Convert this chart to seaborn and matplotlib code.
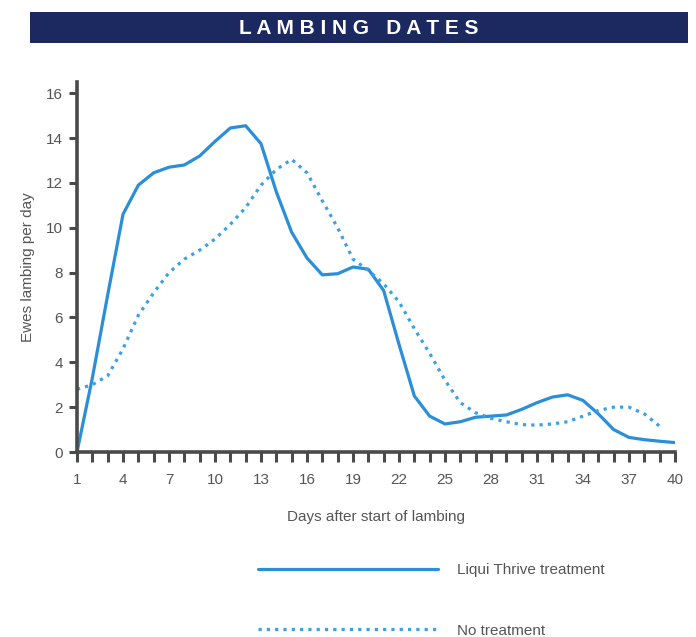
import matplotlib
matplotlib.use("Agg")
import matplotlib.pyplot as plt
import seaborn as sns
import pandas as pd
from matplotlib.patches import Rectangle
from matplotlib.ticker import MultipleLocator, FixedLocator
from matplotlib import font_manager

days = list(range(1, 41))
liqui_thrive = [0.0, 3.3, 7.0, 10.6, 11.9, 12.45, 12.7, 12.8, 13.2, 13.85,
                14.45, 14.55, 13.75, 11.6, 9.8, 8.65, 7.9, 7.95, 8.25, 8.15,
                7.2, 4.8, 2.5, 1.6, 1.25, 1.35, 1.55, 1.6, 1.65, 1.9,
                2.2, 2.45, 2.55, 2.3, 1.7, 1.0, 0.65, 0.55, 0.48, 0.42]
no_treatment_days = list(range(1, 40))
no_treatment = [2.8, 3.0, 3.4, 4.6, 6.1, 7.1, 8.0, 8.6, 9.0, 9.5,
                10.15, 10.9, 11.9, 12.6, 13.05, 12.45, 11.2, 10.0, 8.6, 8.1,
                7.5, 6.7, 5.5, 4.4, 3.2, 2.2, 1.75, 1.5, 1.35, 1.22,
                1.2, 1.25, 1.35, 1.6, 1.85, 2.0, 2.0, 1.7, 1.15]
series_names = ["Liqui Thrive treatment", "No treatment"]
x_tick_labels = list(range(1, 41, 3))
y_ticks = list(range(0, 17, 2))

df = pd.concat([
    pd.DataFrame({"day": days, "value": liqui_thrive, "series": series_names[0]}),
    pd.DataFrame({"day": no_treatment_days, "value": no_treatment, "series": series_names[1]}),
])

sns.set_style("white")
names = {f.name for f in font_manager.fontManager.ttflist}
main_font = "Liberation Sans Narrow" if "Liberation Sans Narrow" in names else "Liberation Sans"
plt.rcParams["font.family"] = [main_font, "DejaVu Sans"]

fig = plt.figure(figsize=(6.96, 6.37), dpi=100)
ax = fig.add_axes([77/696, (637-452)/637, (675-77)/696, (452-82)/637])

blue = "#2a8fd8"
sns.lineplot(data=df, x="day", y="value", hue="series", style="series",
             palette={series_names[0]: blue, series_names[1]: "#3aa0e8"},
             dashes={series_names[0]: "", series_names[1]: (1, 1.6)},
             linewidth=2.3, ax=ax, legend=True)

handles, labels = ax.get_legend_handles_labels()
ax.get_legend().remove()

ax.set_xlim(1, 40)
ax.set_ylim(0, 16.5)
ax.xaxis.set_major_locator(FixedLocator(x_tick_labels))
ax.xaxis.set_minor_locator(MultipleLocator(1))
ax.set_xticklabels([str(v) for v in x_tick_labels])
ax.set_yticks(y_ticks)
ax.set_yticklabels([str(v) for v in y_ticks])

spine_col = "#4a4a4a"
for s in ["top", "right"]:
    ax.spines[s].set_visible(False)
for s in ["left", "bottom"]:
    ax.spines[s].set_color(spine_col)
    ax.spines[s].set_linewidth(2.6)
ax.tick_params(axis="both", which="both", direction="out", color=spine_col,
               width=2.2, labelcolor="#555555", labelsize=11)
ax.tick_params(axis="x", which="major", length=7, pad=8, bottom=True)
ax.tick_params(axis="x", which="minor", length=7, width=2.2, bottom=True,
               color=spine_col)
ax.tick_params(axis="y", which="major", length=6, pad=4, left=True)
ax.tick_params(axis="y", which="minor", left=False)
ax.set_xlabel("Days after start of lambing", color="#555555", fontsize=11, labelpad=17)
ax.set_ylabel("Ewes lambing per day", color="#555555", fontsize=11, labelpad=8)
ax.grid(False)

# title banner
fig.patches.append(Rectangle((30/696, (637-43)/637), (688-30)/696, 31/637,
                             transform=fig.transFigure, facecolor="#1c2860",
                             edgecolor="none", zorder=0))
fig.text(359/696, (637-28)/637, "L A M B I N G   D A T E S", color="white",
         fontsize=15, fontweight="bold", ha="center", va="center")

fig.legend(handles, labels, loc="upper left",
           bbox_to_anchor=(258/696, (637-563)/637), frameon=False,
           handlelength=11.8, handletextpad=1.25, labelspacing=3.05,
           borderpad=0, borderaxespad=0, prop={"size": 11},
           labelcolor="#555555")

fig.savefig("out.png", dpi=100)
